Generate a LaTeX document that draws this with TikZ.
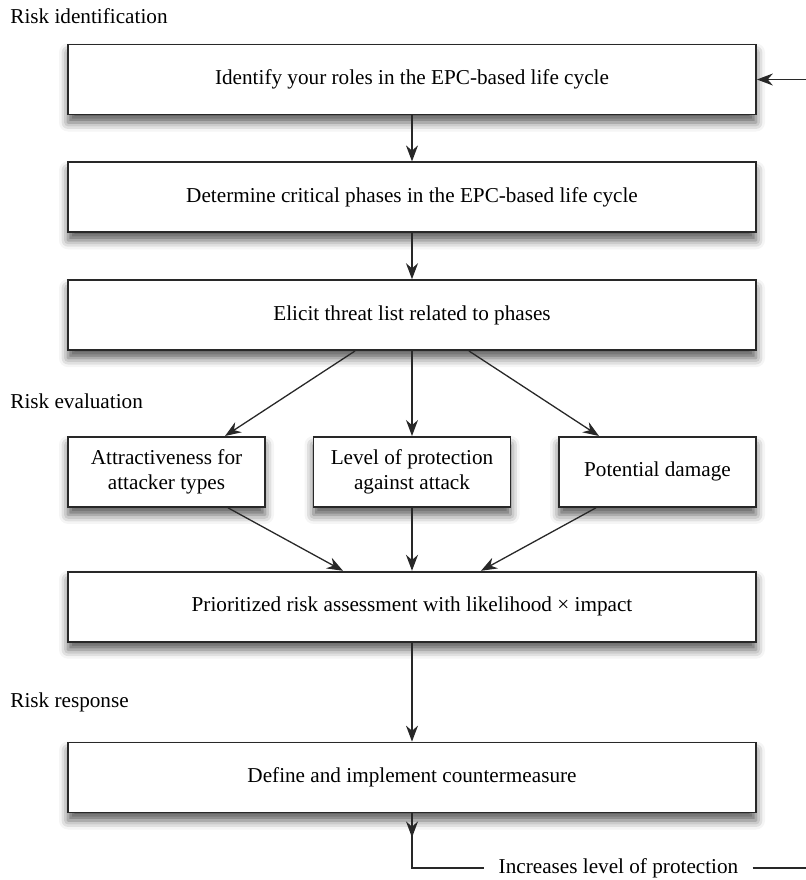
\documentclass[tikz,border=0pt]{standalone}
\usepackage{fontspec}
\setmainfont{Liberation Serif}
\usepackage{tikz}
\usetikzlibrary{arrows.meta,positioning,calc,shadows.blur}
\definecolor{riskline}{RGB}{40,40,40}

\begin{document}
\begin{tikzpicture}[x=0.5pt, y=-0.5pt,
        font=\fontsize{10.6}{12.6}\selectfont,
        stage/.style={draw=riskline, line width=0.9pt, fill=white, minimum width=344pt, minimum height=35pt, align=center,
          blur shadow={shadow xshift=0pt, shadow yshift=-4pt, shadow blur radius=4.5pt, shadow opacity=65}},
        factor/.style={stage, minimum width=98.5pt},
        phase/.style={anchor=base west, inner sep=0pt},
        link/.style={line width=0.65pt, draw=riskline},
        arr/.style={link, -{Stealth[length=8pt, width=6pt]}}]
        \useasboundingbox (0,0) rectangle (806,880);
        \node[phase] (identlbl) at (10,23) {Risk identification};
        \node[phase] (evallbl) at (10,408) {Risk evaluation};
        \node[phase] (resplbl) at (10,707) {Risk response};
        \node[stage] (roles) at (412,79.5) {Identify your roles in the EPC-based life cycle};
        \node[stage, below=23pt of roles] (phases) {Determine critical phases in the EPC-based life cycle};
        \node[stage, below=23pt of phases] (threats) {Elicit threat list related to phases};
        \node[factor, below=42.5pt of threats, xshift=-122.75pt] (attract) {Attractiveness for\\attacker types};
        \node[factor, below=42.5pt of threats] (level) {Level of protection\\against attack};
        \node[factor, below=42.5pt of threats, xshift=122.75pt] (damage) {Potential damage};
        \node[stage, below=31.5pt of level] (prio) {Prioritized risk assessment with likelihood × impact};
        \node[stage, below=49.5pt of prio] (counter) {Define and implement countermeasure};
        \node[inner xsep=7pt] (incr) at (618.5,868) {Increases level of protection};
        \coordinate (rim) at (806,868);
        \coordinate (turn) at (counter.south |- incr);
        \draw[arr] (roles) -- (phases);
        \draw[arr] (phases) -- (threats);
        \draw[arr] ([xshift=-28.5pt]threats.south) -- ([xshift=29.25pt]attract.north);
        \draw[arr] (threats) -- (level);
        \draw[arr] ([xshift=28.5pt]threats.south) -- ([xshift=-29.25pt]damage.north);
        \draw[arr] ([xshift=30.75pt]attract.south) -- ([xshift=-34.5pt]prio.north);
        \draw[arr] (level) -- (prio);
        \draw[arr] ([xshift=-30.75pt]damage.south) -- ([xshift=34.5pt]prio.north);
        \draw[arr] (prio) -- (counter);
        % feedback loop
        \draw[arr] (rim |- roles.east) -- (roles.east);
        \draw[arr] (counter.south) -- ($(counter.south)!0.44!(turn)$);
        \draw[link] (counter.south) -- (turn) -- (incr.west);
        \draw[link] (incr.east) -- (rim);
      \end{tikzpicture}
\end{document}
